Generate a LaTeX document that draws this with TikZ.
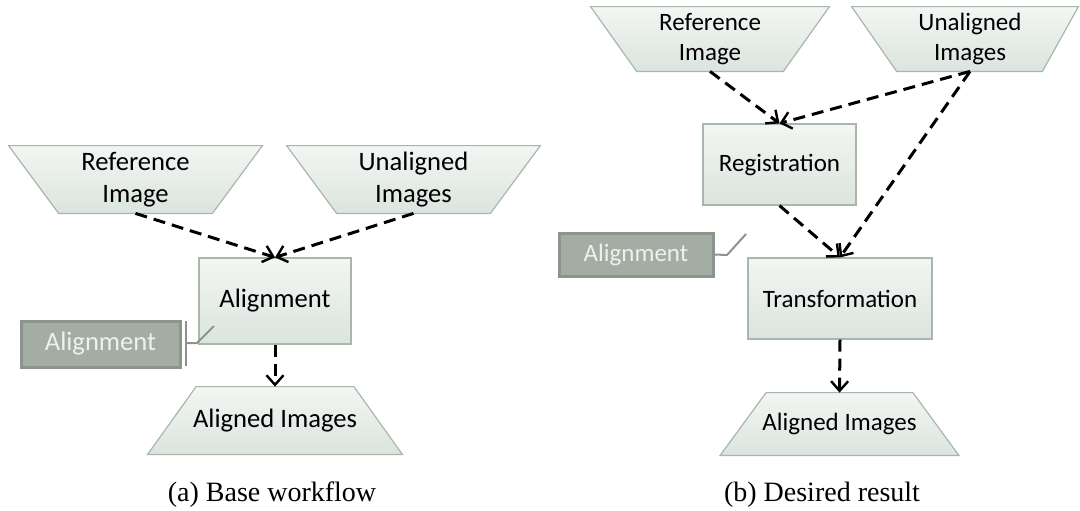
\documentclass[tikz,border=0pt]{standalone}
\usepackage{fontspec}
\setmainfont{Liberation Serif}
\newfontfamily\calfont{Carlito}
\usetikzlibrary{arrows.meta,calc,backgrounds}
\newdimen\pxu \pxu=0.5pt
\definecolor{boxtop}{HTML}{F3F6F3}
\definecolor{boxbot}{HTML}{DBE4DE}
\definecolor{boxline}{HTML}{A9B6AC}
\definecolor{calfill}{HTML}{A3ADA4}
\definecolor{calline}{HTML}{8C958D}
\definecolor{caltext}{HTML}{EEF1EE}
\tikzset{
  lfont/.style={font=\calfont\fontsize{13.3pt}{16pt}\selectfont},
  rfont/.style={font=\calfont\fontsize{12.5pt}{15pt}\selectfont},
  procbox/.style={rectangle, draw=boxline, line width=0.6pt, top color=boxtop, bottom color=boxbot, inner sep=0pt, align=center},
  slot/.style={rectangle, inner sep=0pt, align=center},
  trap/.style={draw=boxline, line width=0.6pt, top color=boxtop, bottom color=boxbot},
  callbox/.style={rectangle, draw=calline, line width=1.5pt, fill=calfill, text=caltext, inner sep=0pt},
  calllink/.style={draw=calline, line width=1pt},
  flow/.style={draw=black, line width=1.5pt, dash pattern=on 6pt off 3.5pt,
    -{Straight Barb[length=4.8pt,width=8.5pt,line width=1.2pt]}},
  caption/.style={font=\fontsize{14pt}{17pt}\selectfont, inner sep=0pt}
}
\begin{document}
\begin{tikzpicture}[x=0.5pt,y=-0.5pt]
\useasboundingbox (0,0) rectangle (1080,510);

% ---------- (a) ----------
\node[slot, lfont, minimum width=253\pxu, minimum height=67\pxu] (refA) at (135.5,179.5) {Reference\\Image};
\node[slot, lfont, minimum width=253\pxu, minimum height=67\pxu] (unA) at (413.5,179.5) {Unaligned\\Images};
\node[procbox, lfont, minimum width=152\pxu, minimum height=86\pxu] (alignA) at (275,301) {Alignment};
\node[slot, lfont, minimum width=254\pxu, minimum height=67\pxu] (outA) at (275,420.5) {Aligned Images};
\node[callbox, lfont, minimum width=159\pxu, minimum height=46\pxu] (callA) at (100.5,344) {Alignment};
\node[caption] (capA) at (272,495) {(a) Base workflow};

\coordinate (brAt) at (186,321);
\coordinate (brAb) at (186,366);
\coordinate (elbA) at (197,343);
\coordinate (tipA) at (214,326);
\draw[calllink] (brAt) -- (brAb);
\draw[calllink] (brAt |- elbA) -- (elbA) -- (tipA);

\draw[flow] (refA.south) -- (alignA.north);
\draw[flow] (unA.south) -- (alignA.north);
\draw[flow] (alignA.south) -- (outA.north);

% ---------- (b) ----------
\node[slot, rfont, minimum width=238\pxu, minimum height=64\pxu] (refB) at (710,39) {Reference\\Image};
\node[slot, rfont, minimum width=238\pxu, minimum height=64\pxu] (unB) at (970,39) {Unaligned\\Images};
\node[procbox, rfont, minimum width=153\pxu, minimum height=81\pxu] (regB) at (779.5,164.5) {Registration};
\node[procbox, rfont, minimum width=184\pxu, minimum height=81\pxu] (transB) at (840,298.5) {Transformation};
\node[slot, rfont, minimum width=238\pxu, minimum height=62\pxu] (outB) at (839.5,424) {Aligned Images};
\node[callbox, rfont, minimum width=154\pxu, minimum height=43\pxu] (callB) at (636,254.5) {Alignment};
\node[caption] (capB) at (822,495) {(b) Desired result};

\coordinate (elbB) at (727,255);
\coordinate (tipB) at (746,234);
\draw[calllink] (callB.east) -- (elbB) -- (tipB);

\draw[flow] (refB.south) -- (regB.north);
\draw[flow] (unB.south) -- (regB.north);
\draw[flow] (unB.south) -- (transB.north);
\draw[flow] (regB.south) -- (transB.north);
\draw[flow] (transB.south) -- (outB.north);

% ---------- trapezoid bodies ----------
\begin{scope}[on background layer]
\clip (0,0) rectangle (1080,510);
\shade[trap] (refA.north west) -- (refA.north east) -- ($(refA.south east)+(-50,0)$) -- ($(refA.south west)+(50,0)$) -- cycle;
\shade[trap] (unA.north west) -- (unA.north east) -- ($(unA.south east)+(-50,0)$) -- ($(unA.south west)+(50,0)$) -- cycle;
\shade[trap] ($(outA.north west)+(48.5,0)$) -- ($(outA.north east)+(-48.5,0)$) -- (outA.south east) -- (outA.south west) -- cycle;
\shade[trap] (refB.north west) -- (refB.north east) -- ($(refB.south east)+(-46,0)$) -- ($(refB.south west)+(46,0)$) -- cycle;
\shade[trap] ($(unB.north west)+(1,0)$) -- ($(unB.north east)+(-11,0)$) -- ($(unB.south east)+(-47,0)$) -- ($(unB.south west)+(46,0)$) -- cycle;
\shade[trap] ($(outB.north west)+(46,0)$) -- ($(outB.north east)+(-46,0)$) -- (outB.south east) -- (outB.south west) -- cycle;
\end{scope}
\end{tikzpicture}
\end{document}
